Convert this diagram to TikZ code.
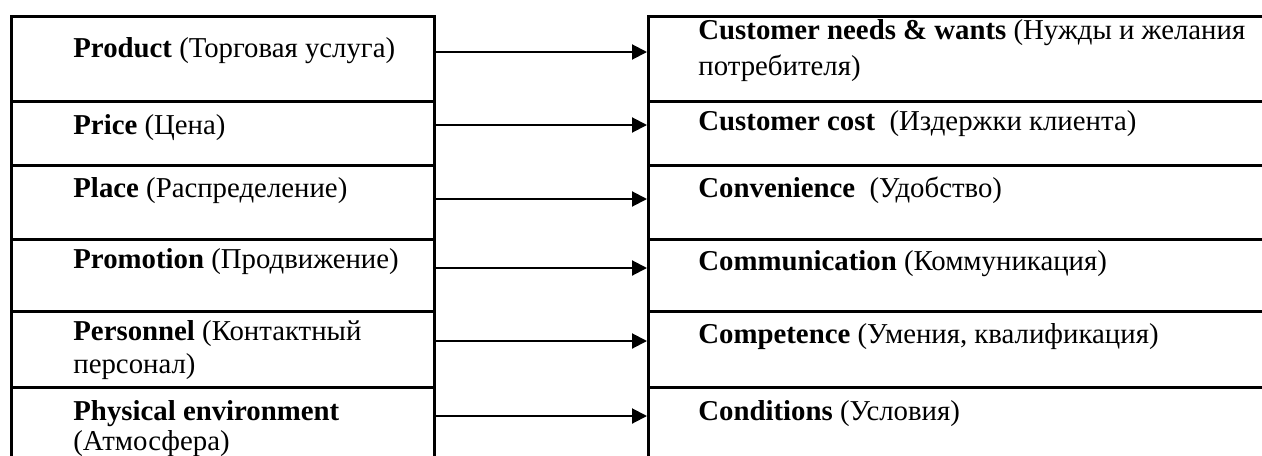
\documentclass[tikz,border=0pt]{standalone}
\usepackage{fontspec}
\setmainfont{Liberation Serif}
\usetikzlibrary{arrows.meta}
\begin{document}
\begin{tikzpicture}[x=0.5pt,y=-0.5pt,
  cell/.style={draw,line width=1.5pt,rectangle,inner sep=0pt,anchor=north west},
  lcell/.style={cell,minimum width=211.5pt},
  rcell/.style={cell,minimum width=315pt},
  lbl/.style={anchor=base west,inner sep=0pt,align=left,font=\fontsize{14.4}{16.5}\selectfont},
  arr/.style={line width=1pt,-{Triangle[length=7.5pt,width=7.5pt]}}]
\useasboundingbox (0,0) rectangle (1262,455);
% left cells
\node[lcell,minimum height=42.5pt] (L1) at (10,15) {};
\node[lcell,minimum height=32pt] (L2) at (10,100) {};
\node[lcell,minimum height=37pt] (L3) at (10,164) {};
\node[lcell,minimum height=36pt] (L4) at (10,238) {};
\node[lcell,minimum height=38pt] (L5) at (10,310) {};
\node[lcell,minimum height=42pt] (L6) at (10,386) {};
% right cells
\node[rcell,minimum height=42.5pt] (R1) at (647,15) {};
\node[rcell,minimum height=32pt] (R2) at (647,100) {};
\node[rcell,minimum height=37pt] (R3) at (647,164) {};
\node[rcell,minimum height=36pt] (R4) at (647,238) {};
\node[rcell,minimum height=38pt] (R5) at (647,310) {};
\node[rcell,minimum height=42pt] (R6) at (647,386) {};
% labels (base anchor of multi-line nodes = last line)
\node[lbl] (tL1) at (73,57) {\textbf{Product} (Торговая услуга)};
\node[lbl] (tL2) at (73,134) {\textbf{Price} (Цена)};
\node[lbl] (tL3) at (73,197) {\textbf{Place} (Распределение)};
\node[lbl] (tL4) at (73,268) {\textbf{Promotion} (Продвижение)};
\node[lbl] (tL5) at (73,373) {\textbf{Personnel} (Контактный\\персонал)};
\node[lbl] (tL6) at (73,450) {\textbf{Physical environment}\\[-1.5pt](Атмосфера)};
\node[lbl] (tR1) at (698,75) {\textbf{Customer needs \& wants} (Нужды и желания\\[1pt]потребителя)};
\node[lbl] (tR2) at (698,130) {\textbf{Customer cost}\ \ (Издержки клиента)};
\node[lbl] (tR3) at (698,197) {\textbf{Convenience}\ \ (Удобство)};
\node[lbl] (tR4) at (698,270) {\textbf{Communication} (Коммуникация)};
\node[lbl] (tR5) at (698,343) {\textbf{Competence} (Умения, квалификация)};
\node[lbl] (tR6) at (698,420) {\textbf{Conditions} (Условия)};
% arrows
\coordinate (y1) at (0,52);
\coordinate (y2) at (0,125);
\coordinate (y3) at (0,199);
\coordinate (y4) at (0,268);
\coordinate (y5) at (0,341);
\coordinate (y6) at (0,416);
\draw[arr] (L1.east |- y1) -- (R1.west |- y1);
\draw[arr] (L2.east |- y2) -- (R2.west |- y2);
\draw[arr] (L3.east |- y3) -- (R3.west |- y3);
\draw[arr] (L4.east |- y4) -- (R4.west |- y4);
\draw[arr] (L5.east |- y5) -- (R5.west |- y5);
\draw[arr] (L6.east |- y6) -- (R6.west |- y6);
\end{tikzpicture}
\end{document}
